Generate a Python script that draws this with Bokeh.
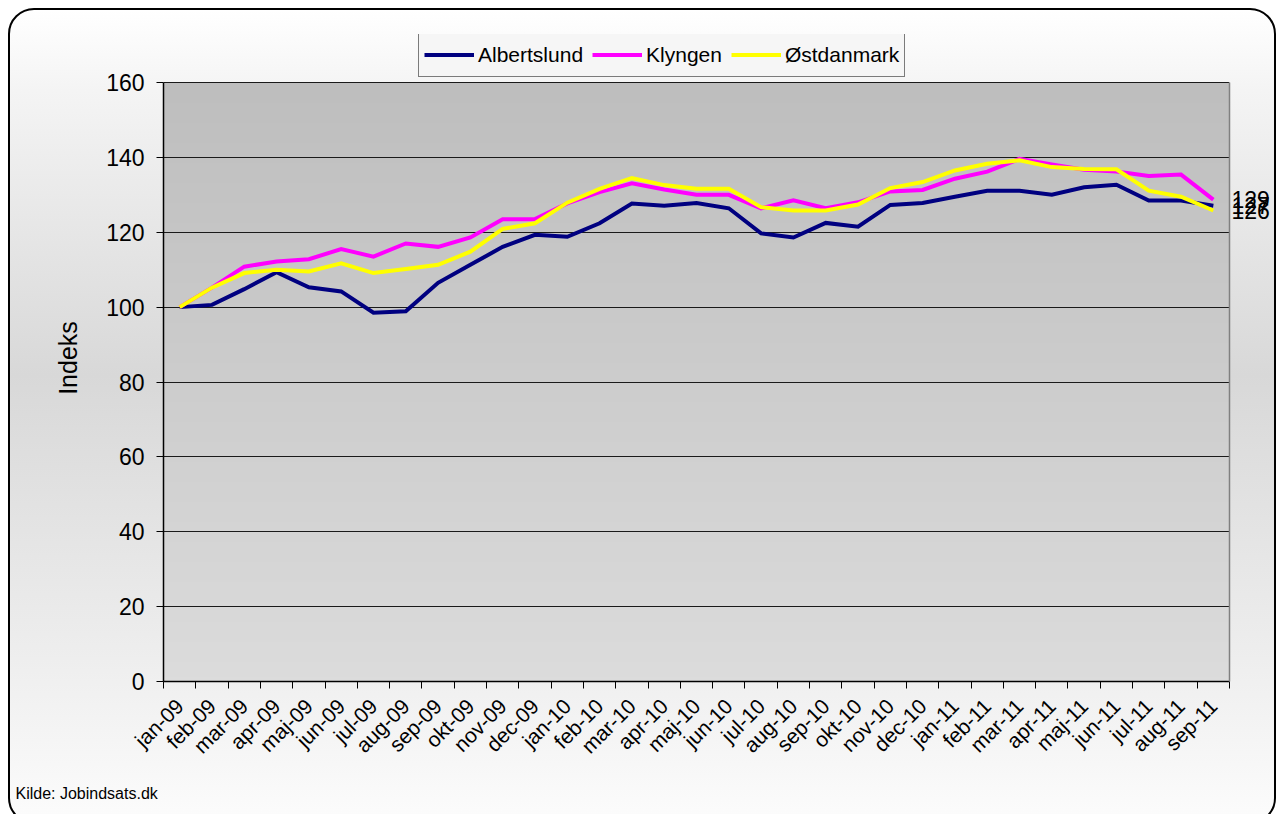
import math
import numpy as np
from bokeh.plotting import figure
from bokeh.models import (FixedTicker, Legend, LegendItem, LinearAxis, Title, Range1d)
from bokeh.embed import file_html
from bokeh.resources import INLINE

months = ["jan-09", "feb-09", "mar-09", "apr-09", "maj-09", "jun-09", "jul-09", "aug-09",
          "sep-09", "okt-09", "nov-09", "dec-09", "jan-10", "feb-10", "mar-10", "apr-10",
          "maj-10", "jun-10", "jul-10", "aug-10", "sep-10", "okt-10", "nov-10", "dec-10",
          "jan-11", "feb-11", "mar-11", "apr-11", "maj-11", "jun-11", "jul-11", "aug-11",
          "sep-11"]

albertslund = [100, 100.6, 104.8, 109.3, 105.3, 104.2, 98.5, 98.9, 106.5, 111.3, 116.1,
               119.3, 118.8, 122.4, 127.7, 127.1, 127.8, 126.4, 119.7, 118.6, 122.5, 121.5,
               127.3, 127.8, 129.5, 131.1, 131.1, 130.0, 132.0, 132.7, 128.5, 128.5, 127.1]
klyngen = [100, 105.2, 110.8, 112.2, 112.8, 115.5, 113.5, 117.0, 116.1, 118.6, 123.5,
           123.5, 127.7, 130.7, 133.1, 131.4, 130.0, 130.0, 126.4, 128.5, 126.4, 128.0,
           130.9, 131.3, 134.3, 136.2, 139.6, 138.1, 136.7, 136.2, 135.0, 135.4, 128.7]
ostdanmark = [100, 105.2, 109.1, 110.0, 109.5, 111.7, 109.1, 110.2, 111.3, 114.8, 120.9,
              122.4, 127.9, 131.6, 134.5, 132.6, 131.6, 131.6, 126.7, 125.8, 125.8, 127.4,
              131.8, 133.4, 136.5, 138.3, 139.2, 137.4, 136.9, 136.8, 131.1, 129.5, 125.8]

series_names = ["Albertslund", "Klyngen", "Østdanmark"]
series_values = [albertslund, klyngen, ostdanmark]
series_colors = ["#000080", "#ff00ff", "#ffff00"]

y_ticks = [0, 20, 40, 60, 80, 100, 120, 140, 160]
y_label = "Indeks"
source_text = "Kilde: Jobindsats.dk"

FONT = "Liberation Sans"
n = len(months)
xs = list(range(n))
y_max = 160
# extra headroom above the plot area (48 px) where the legend sits
head = 48 * y_max / 599.0

p = figure(frame_width=1066, frame_height=647,
           x_range=Range1d(-0.5, n - 0.5), y_range=Range1d(0, y_max + head),
           output_backend="svg", toolbar_location=None,
           min_border_left=153, min_border_right=45,
           min_border_top=24, min_border_bottom=141)

p.styles = {"background": "linear-gradient(to bottom, #ffffff 0%, #f4f4f4 10%, #d8d8d8 45%, #eeeeee 80%, #fcfcfc 100%)",
            "border": "2px solid #000000", "border-radius": "26px",
            "margin-left": "8px", "margin-top": "8px"}
p.border_fill_color = None
p.background_fill_color = None
p.outline_line_color = None

# plot area gradient
grad_n = 120
top = np.array([0xbe, 0xbe, 0xbe], dtype=float)
bot = np.array([0xdc, 0xdc, 0xdc], dtype=float)
img = np.empty((grad_n, 1), dtype=np.uint32)
view = img.view(dtype=np.uint8).reshape((grad_n, 1, 4))
for r in range(grad_n):
    t = r / (grad_n - 1)
    c = bot + (top - bot) * t
    view[r, 0, 0] = int(c[0]); view[r, 0, 1] = int(c[1]); view[r, 0, 2] = int(c[2]); view[r, 0, 3] = 255
p.image_rgba(image=[img], x=-0.5, y=0, dw=n, dh=y_max, level="image")

renderers = []
for name, vals, col in zip(series_names, series_values, series_colors):
    r = p.line(xs, vals, line_color=col, line_width=4, line_join="miter")
    renderers.append((name, r))

# axes
p.xaxis.ticker = FixedTicker(ticks=xs, minor_ticks=[i - 0.5 for i in range(n + 1)])
p.xaxis.major_label_overrides = {i: m for i, m in enumerate(months)}
p.xaxis.major_label_orientation = math.pi / 4
p.xaxis.major_tick_out = 0
p.xaxis.major_tick_in = 0
p.xaxis.minor_tick_out = 7
p.xaxis.minor_tick_in = 0
p.xaxis.minor_tick_line_color = "black"
p.xaxis.axis_line_color = "black"
p.xaxis.axis_line_width = 1.5
p.xaxis.major_label_text_font = FONT
p.xaxis.major_label_text_font_size = "21px"
p.xaxis.major_label_text_color = "black"
p.xaxis.major_label_standoff = 14

p.yaxis.ticker = FixedTicker(ticks=y_ticks)
p.yaxis.bounds = (0, y_max)
p.yaxis.minor_tick_line_color = None
p.yaxis.major_tick_out = 7
p.yaxis.major_tick_in = 0
p.yaxis.major_tick_line_color = "black"
p.yaxis.axis_line_color = "black"
p.yaxis.axis_line_width = 1.5
p.yaxis.major_label_text_font = FONT
p.yaxis.major_label_text_font_size = "23px"
p.yaxis.major_label_text_color = "black"
p.yaxis.major_label_standoff = 12
p.yaxis.axis_label = y_label
p.yaxis.axis_label_text_font = FONT
p.yaxis.axis_label_text_font_size = "25px"
p.yaxis.axis_label_text_font_style = "normal"
p.yaxis.axis_label_text_color = "black"
p.yaxis.axis_label_standoff = 21

p.xgrid.grid_line_color = None
p.ygrid.ticker = FixedTicker(ticks=y_ticks)
p.ygrid.grid_line_color = "#1a1a1a"
p.ygrid.grid_line_width = 1

# end-of-line value labels as a right axis (its line is the plot area's right border)
last_vals = [vals[-1] for vals in series_values]
end_axis = LinearAxis(ticker=FixedTicker(ticks=last_vals), bounds=(0, y_max),
                      major_label_overrides={v: f"{v:.0f}" for v in last_vals},
                      axis_line_color="#808080", axis_line_width=1.5,
                      major_tick_line_color=None,
                      minor_tick_line_color=None, major_tick_out=0, major_tick_in=0,
                      major_label_standoff=2, major_label_text_font=FONT,
                      major_label_text_font_size="23px", major_label_text_color="black")
p.add_layout(end_axis, "right")

legend = Legend(items=[LegendItem(label=nm, renderers=[r]) for nm, r in renderers],
                orientation="horizontal", location=(255, 604),
                label_text_font=FONT, label_text_font_size="21px",
                label_text_color="black",
                glyph_width=50, glyph_height=33, label_height=33,
                label_standoff=4, spacing=9, padding=5, margin=0,
                border_line_color="black", border_line_width=1,
                background_fill_color="#f6f6f6", background_fill_alpha=1)
p.add_layout(legend)

p.add_layout(Title(text=source_text, align="left", offset=-148, standoff=28,
                   text_font=FONT, text_font_size="16px", text_font_style="normal",
                   text_color="black"), "below")

open("out.html", "w").write(file_html(p, INLINE))
